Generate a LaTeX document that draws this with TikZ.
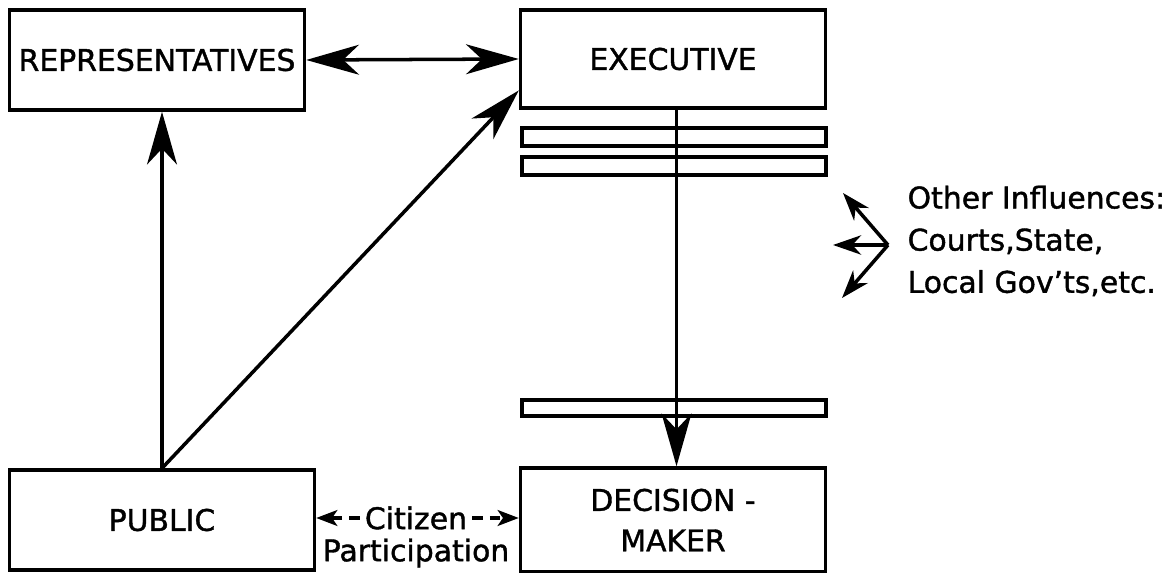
\documentclass[tikz,border=0pt]{standalone}
\usepackage{fontspec}
\setmainfont{DejaVu Sans}[FakeBold=1.3]
\usetikzlibrary{arrows.meta}

\begin{document}
\begin{tikzpicture}[x=0.02cm,y=-0.02cm,line width=2pt,
  box/.style={draw,minimum width=6.1cm,minimum height=2cm,align=center,font=\fontsize{17}{23}\selectfont},
  arr/.style={-{Stealth[length=30pt,width=17pt,inset=9pt]}},
  darr/.style={{Stealth[length=30pt,width=17pt,inset=9pt]}-{Stealth[length=30pt,width=17pt,inset=9pt]}},
  sarr/.style={-{Stealth[length=16pt,width=11pt,inset=5pt]}},
  carr/.style={-{Stealth[length=12pt,width=9pt,inset=3pt]},dash pattern=on 6pt off 4pt},
  txt/.style={font=\fontsize{17}{24}\selectfont}]
\useasboundingbox (0,0) rectangle (1167,573);
\node[box,minimum width=5.9cm] (rep) at (157,60) {REPRESENTATIVES};
\node[box,minimum height=1.96cm] (exec) at (673,59) {EXECUTIVE};
\node[box] (pub) at (162,520) {PUBLIC};
\node[box,minimum height=2.08cm] (dm) at (673,520) {DECISION -\\MAKER};
% bars under the executive
\draw[line width=1.8pt] (522,128) rectangle (826,146);
\draw[line width=1.8pt] (522,157) rectangle (826,175);
\draw[line width=1.8pt] (522,400) rectangle (826,416);
% connectors
\draw[arr,line width=1.6pt] ([xshift=2pt]exec.south) -- ([xshift=2pt]dm.north);
\draw[arr] (pub.north) -- (pub.north |- rep.south);
\draw[arr] (pub.north) -- ([yshift=11pt]exec.south west);
\draw[darr] (rep.east) -- (exec.west);
% citizen participation
\node[txt,inner xsep=2pt] (cit) at (416,518) {Citizen};
\node[txt] (par) at (416,553) {Participation};
\draw[carr] (cit.west) -- (cit.west -| pub.east);
\draw[carr] (cit.east) -- (cit.east -| dm.west);
% other influences
\coordinate (apex) at (888,245);
\coordinate (up) at (843,193);
\coordinate (left) at (833,245);
\coordinate (down) at (842,298);
\draw[sarr] (apex) -- (up);
\draw[sarr] (apex) -- (left);
\draw[sarr] (apex) -- (down);
\node[txt,anchor=west,align=left] (oth) at (900,241) {Other Influences:\\Courts,State,\\Local Gov'ts,etc.};
\end{tikzpicture}
\end{document}
